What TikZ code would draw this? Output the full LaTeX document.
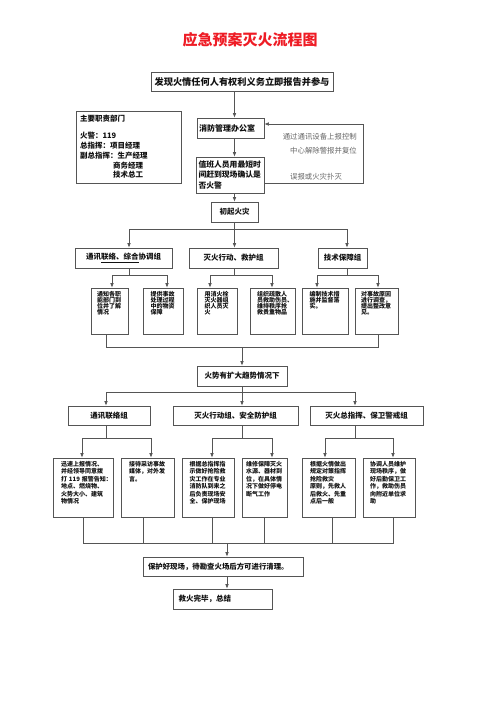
\documentclass[tikz,border=0pt]{standalone}
\usepackage{fontspec}
\usepackage{xcolor}
\usepackage{tikz}
\usetikzlibrary{arrows.meta,positioning}
\newfontfamily\cjk{Noto Sans CJK SC}
\definecolor{alarm}{HTML}{EE1C25}
\definecolor{ink}{HTML}{111111}
\definecolor{frame}{HTML}{555555}
\definecolor{note}{HTML}{666666}

\begin{document}
\begin{tikzpicture}[
    x=1pt, y=-1pt,
    box/.style={draw=frame, line width=.7pt, fill=white, text=ink, inner sep=2pt,
                align=center, font=\cjk\bfseries\fontsize{7.5}{9}\selectfont},
    head/.style={box, minimum height=20pt},
    cell/.style={box, align=left, inner xsep=2pt, inner ysep=3pt, text height=5pt, text depth=35pt,
                 font=\cjk\bfseries\fontsize{6}{6.2}\selectfont},
    tall/.style={cell, text depth=48pt, font=\cjk\bfseries\fontsize{6}{7.5}\selectfont},
    note/.style={font=\cjk\fontsize{7.4}{14}\selectfont, text=note, inner sep=0pt},
    wire/.style={draw=frame, line width=.6pt},
    line/.style={wire, -{Latex[length=4.5pt,width=3.6pt]}}
  ]
  \useasboundingbox (0,0) rectangle (500,707);

  %%%%%%%%%%%%% Title & alarm %%%%%%%%%%%%%
  \node[font=\cjk\bfseries\fontsize{15}{15}\selectfont, text=alarm] (title) at (250,40) {应急预案灭火流程图};
  \node[box, minimum width=182pt, minimum height=19pt, font=\cjk\bfseries\fontsize{9.2}{10}\selectfont]
    (report) at (242,81.5) {发现火情任何人有权利义务立即报告并参与};

  %%%%%%%%%%%%% Office, check and duty list %%%%%%%%%%%%%
  \node[box, align=left, text width=63pt, minimum width=67pt, minimum height=20pt,
        font=\cjk\bfseries\fontsize{8}{10}\selectfont] (office) at (230.5,128) {消防管理办公室};
  \node[box, align=left, text width=64pt, minimum width=67pt, minimum height=36pt,
        font=\cjk\bfseries\fontsize{7.8}{10.5}\selectfont] (check) at (230.5,175)
    {值班人员用最短时\\间赶到现场确认是\\否火警};
  \node[box, align=left, text width=97pt, minimum width=105pt, minimum height=72pt,
        font=\cjk\bfseries\fontsize{7.5}{9.8}\selectfont] (duty) at (128.5,147)
    {主要职责部门\\[7pt]火警：119\\总指挥：项目经理\\副总指挥：生产经理\\\hspace*{33pt}商务经理\\\hspace*{33pt}技术总工};
  \node[note, anchor=east, align=right] (reset) at (357,144) {通过通讯设备上报控制\\中心解除警报并复位};
  \node[note] (falsealarm) at (316,177) {误报或火灾扑灭};
  \node[head, minimum width=47pt] (fire) at (234.5,212) {初起火灾};

  %%%%%%%%%%%%% First response groups %%%%%%%%%%%%%
  \node[head, minimum width=97pt] (g1) at (123.5,258) {通讯\underline{联络、综合}协调组};
  \node[head, minimum width=89pt] (g2) at (233.5,258) {灭火行动、救护组};
  \node[head, minimum width=49pt] (g3) at (342.5,258) {技术保障组};

  \node[cell, text width=25pt, minimum width=37pt] (s1) at (109.5,311) {通知各职\\能部门到\\位并了解\\情况};
  \node[cell, text width=25pt, minimum width=40pt] (s2) at (163,311) {提供事故\\处理过程\\中的物资\\保障};
  \node[cell, text width=25pt, minimum width=40pt] (s3) at (217,311) {用消火栓\\灭火器组\\织人员灭\\火};
  \node[cell, text width=31pt, minimum width=45pt] (s4) at (272.5,311) {组织疏散人\\员救助伤员、\\维持秩序抢\\救贵重物品};
  \node[cell, text width=31pt, minimum width=46pt] (s5) at (325,311) {编制技术措\\施并监督落\\实。};
  \node[cell, text width=31pt, minimum width=43pt] (s6) at (376.5,311) {对事故原因\\进行调查，\\提出整改意\\见。};

  %%%%%%%%%%%%% Escalation groups %%%%%%%%%%%%%
  \node[head, minimum width=90pt] (spread) at (242,376) {火势有扩大趋势情况下};
  \node[head, minimum width=82pt, minimum height=19pt] (h1) at (109,415.5) {通讯联络组};
  \node[head, minimum width=125pt, minimum height=19pt] (h2) at (235.5,415.5) {灭火行动组、安全防护组};
  \node[head, minimum width=113pt, minimum height=19pt] (h3) at (366.5,415.5) {灭火总指挥、保卫警戒组};

  \node[tall, text width=44pt, minimum width=60pt] (l1) at (83,487.5)
    {迅速上报情况、\\并经领导同意拨\\打~119~报警告知：\\地点、燃烧物、\\火势大小、建筑\\物情况};
  \node[tall, text width=37pt, minimum width=53pt] (l2) at (147.5,487.5) {接待采访事故\\媒体，对外发\\言。};
  \node[tall, text width=37pt, minimum width=52pt] (l3) at (208,487.5)
    {根据总指挥指\\示做好抢险救\\灾工作在专业\\消防队到来之\\后负责现场安\\全、保护现场};
  \node[tall, text width=37pt, minimum width=45pt] (l4) at (264.5,487.5)
    {维修保障灭火\\水源、器材到\\位，在具体情\\况下做好停电\\断气工作};
  \node[tall, text width=37pt, minimum width=53pt] (l5) at (328.5,487.5)
    {根据火情做出\\规定对策指挥\\抢险救灾\\原则，先救人\\后救火、先重\\点后一般};
  \node[tall, text width=38pt, minimum width=52pt] (l6) at (389,487.5)
    {协调人员维护\\现场秩序，做\\好后勤保卫工\\作，救助伤员\\向附近单位求\\助};

  %%%%%%%%%%%%% Close out %%%%%%%%%%%%%
  \node[box, align=left, text width=150pt, minimum width=160pt, minimum height=19pt,
        font=\cjk\bfseries\fontsize{7.4}{9}\selectfont] (protect) at (223,566.5) {保护好现场，待勘查火场后方可进行清理。};
  \node[box, align=left, text width=88pt, minimum width=99pt, minimum height=20pt] (finish) at (222.5,599) {救火完毕，总结};

  %%%%%%%%%%%%% Branch points %%%%%%%%%%%%%
  \coordinate (b1w) at (129,229);  \coordinate (b1e) at (347,229);
  \coordinate (c1w) at (112,275);  \coordinate (c1e) at (167,275);
  \coordinate (c2w) at (210,275);  \coordinate (c2e) at (272,275);
  \coordinate (c3w) at (317,275);  \coordinate (c3e) at (378,275);
  \coordinate (k1w) at (106,347);  \coordinate (k1e) at (378,347);
  \coordinate (b2w) at (106,392);  \coordinate (b2e) at (355,392);
  \coordinate (d1w) at (82,438);   \coordinate (d1e) at (151,438);
  \coordinate (d2w) at (212,438);  \coordinate (d2e) at (272,438);
  \coordinate (d3w) at (325,438);  \coordinate (d3e) at (393,438);
  \coordinate (k2a) at (83,543);   \coordinate (k2b) at (143,543);
  \coordinate (k2c) at (212,543);  \coordinate (k2d) at (264,543);
  \coordinate (k2e) at (332,543);  \coordinate (k2f) at (393,543);
  \coordinate (k2m) at (227,543);
  \coordinate (loop) at (363,124);

  %%%%%%%%%%%%% Connections: report -> office -> check %%%%%%%%%%%%%
  \draw[line] (report.south -| fire) -- (office.north -| fire);
  \draw[line] (office.south -| fire) -- (check.north -| fire);
  \draw[line] ([yshift=-8pt]check.east) -| (loop) -- ([yshift=4pt]office.east);
  \draw[line] (check.south -| fire) -- (fire);

  %%%%%%%%%%%%% First response %%%%%%%%%%%%%
  \draw[wire] (b1w) -- (b1e);
  \draw[line] (fire) -- (fire |- g2.north);
  \draw[line] (b1w) -- (b1w |- g1.north);
  \draw[line] (b1e) -- (b1e |- g3.north);
  \draw[wire] (b1w |- g1.south) -- (b1w |- c1w) (c1w) -- (c1e);
  \draw[wire] (fire |- g2.south) -- (fire |- c2w) (c2w) -- (c2e);
  \draw[wire] (b1e |- g3.south) -- (b1e |- c3w) (c3w) -- (c3e);
  \draw[line] (c1w) -- (c1w |- s1.north);
  \draw[line] (c1e) -- (c1e |- s2.north);
  \draw[line] (c2w) -- (c2w |- s3.north);
  \draw[line] (c2e) -- (c2e |- s4.north);
  \draw[line] (c3w) -- (c3w |- s5.north);
  \draw[line] (c3e) -- (c3e |- s6.north);
  \draw[wire] (k1w |- s1.south) -- (k1w) -- (k1e) -- (k1e |- s6.south);
  \draw[line] (k1w -| spread) -- (spread);

  %%%%%%%%%%%%% Escalation %%%%%%%%%%%%%
  \draw[wire] (b2w) -- (b2e);
  \draw[line] (spread) -- (spread |- h2.north);
  \draw[line] (b2w) -- (b2w |- h1.north);
  \draw[line] (b2e) -- (b2e |- h3.north);
  \draw[wire] (b2w |- h1.south) -- (b2w |- d1w) (d1w) -- (d1e);
  \draw[wire] (spread |- h2.south) -- (spread |- d2w) (d2w) -- (d2e);
  \draw[wire] (b2e |- h3.south) -- (b2e |- d3w) (d3w) -- (d3e);
  \draw[line] (d1w) -- (d1w |- l1.north);
  \draw[line] (d1e) -- (d1e |- l2.north);
  \draw[line] (d2w) -- (d2w |- l3.north);
  \draw[line] (d2e) -- (d2e |- l4.north);
  \draw[line] (d3w) -- (d3w |- l5.north);
  \draw[line] (d3e) -- (d3e |- l6.north);

  %%%%%%%%%%%%% Collect -> protect -> finish %%%%%%%%%%%%%
  \draw[wire] (k2a |- l1.south) -- (k2a) -- (k2f) -- (k2f |- l6.south);
  \draw[wire] (k2b |- l2.south) -- (k2b);
  \draw[wire] (k2c |- l3.south) -- (k2c);
  \draw[wire] (k2d |- l4.south) -- (k2d);
  \draw[wire] (k2e |- l5.south) -- (k2e);
  \draw[line] (k2m) -- (k2m |- protect.north);
  \draw[line] (protect.south -| k2m) -- (k2m |- finish.north);

\end{tikzpicture}
\end{document}
